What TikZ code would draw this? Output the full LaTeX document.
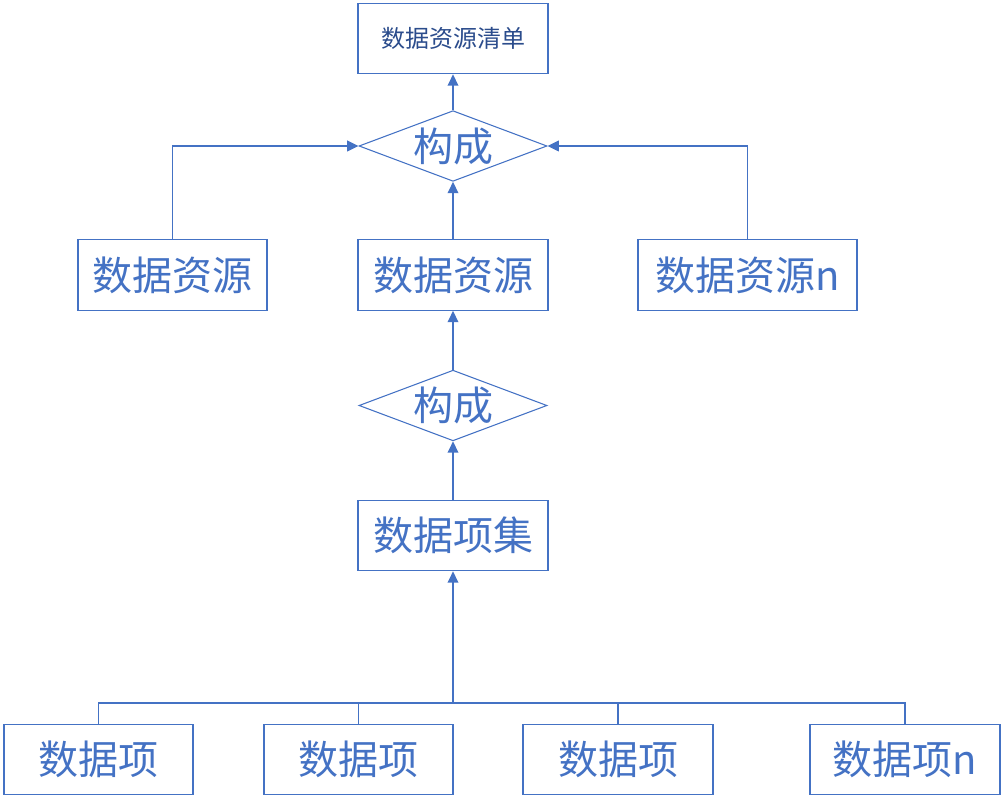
\documentclass[tikz,border=0pt]{standalone}
\usepackage{fontspec}
\setmainfont{Noto Sans CJK SC}
\usetikzlibrary{shapes.geometric,arrows.meta}
\definecolor{cblue}{HTML}{4472C4}
\definecolor{dblue}{HTML}{2B4C8C}
\begin{document}
\begin{tikzpicture}[x=0.75pt,y=-0.75pt,
  box/.style={draw=cblue,line width=0.8pt,fill=white,minimum height=53pt,inner sep=0pt,text=cblue,font=\fontsize{30pt}{33pt}\selectfont},
  dia/.style={draw=cblue,line width=0.8pt,diamond,inner sep=0pt,minimum width=141pt,minimum height=53pt},
  dtext/.style={text=cblue,font=\fontsize{30pt}{33pt}\selectfont,inner sep=0pt},
  conn/.style={draw=cblue,line width=1.2pt},
  arr/.style={conn,-{Triangle[length=8.5pt,width=8pt]}}]
\useasboundingbox (0,0) rectangle (1002,798);
\node[box,minimum width=142.5pt,text=dblue,font=\fontsize{18pt}{21pt}\selectfont] (top) at (453,38.5) {数据资源清单};
\node[dia] (d1) at (453,146) {};
\node[dtext] (d1t) at (453,146) {构成};
\node[box,minimum width=141.75pt] (r1) at (172.5,275) {数据资源};
\node[box,minimum width=142.5pt] (r2) at (453,275) {数据资源};
\node[box,minimum width=164.25pt] (r3) at (747.5,275) {数据资源n};
\node[dia] (d2) at (453,405.5) {};
\node[dtext] (d2t) at (453,405.5) {构成};
\node[box,minimum width=142.5pt] (set) at (453,535.5) {数据项集};
\node[box,minimum width=141.75pt] (b1) at (98.5,759.5) {数据项};
\node[box,minimum width=141.75pt] (b2) at (358.5,759.5) {数据项};
\node[box,minimum width=142.5pt] (b3) at (618,759.5) {数据项};
\node[box,minimum width=142.5pt] (b4) at (905,759.5) {数据项n};
\coordinate (bus) at (453,703);
\draw[arr] (d1.north) -- (top.south);
\draw[arr] (r1.north) |- (d1.west);
\draw[arr] (r3.north) |- (d1.east);
\draw[arr] (r2.north) -- (d1.south);
\draw[arr] (d2.north) -- (r2.south);
\draw[arr] (set.north) -- (d2.south);
\draw[conn] (b1.north) |- (bus) -| (b4.north);
\draw[conn] (b2.north) |- (bus);
\draw[conn] (b3.north) |- (bus);
\draw[arr] (bus) -- (set.south);
\end{tikzpicture}
\end{document}
